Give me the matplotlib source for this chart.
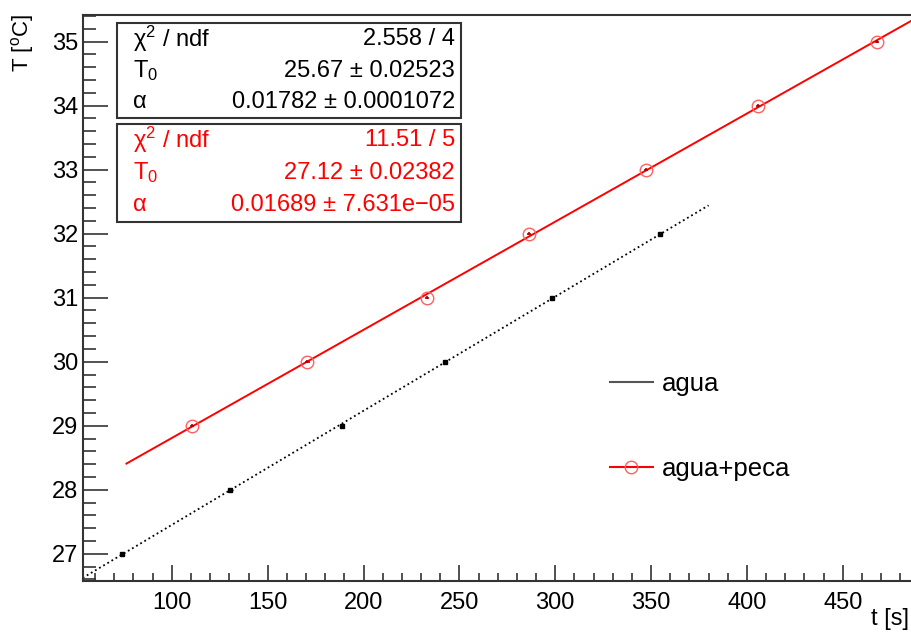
import matplotlib
matplotlib.use('Agg')
import matplotlib.pyplot as plt
from matplotlib.lines import Line2D
from matplotlib.patches import Rectangle
import numpy as np

plt.rcParams['font.family'] = ['Liberation Sans', 'DejaVu Sans']
plt.rcParams['mathtext.fontset'] = 'custom'
plt.rcParams['mathtext.rm'] = 'Liberation Sans'
plt.rcParams['mathtext.it'] = 'Liberation Sans'

# dados: agua
t_agua = [74, 130.5, 188.7, 242.6, 298.4, 354.7]
T_agua = [27, 28, 29, 30, 31, 32]
# dados: agua + peca
t_peca = [110.5, 170.7, 233.2, 286.4, 347.4, 405.8, 467.9]
T_peca = [29, 30, 31, 32, 33, 34, 35]

# parametros dos ajustes (T = T0 + alpha*t)
fit_agua = {'chi2': '2.558 / 4', 'T0': 25.67, 'T0_err': '0.02523',
            'alpha': 0.01782, 'alpha_err': '0.0001072', 'range': (53.5, 380)}
fit_peca = {'chi2': '11.51 / 5', 'T0': 27.12, 'T0_err': '0.02382',
            'alpha': 0.01689, 'alpha_err': '7.631e\u221205', 'range': (76.3, 500)}

W, H = 912, 633
fig = plt.figure(figsize=(W / 100, H / 100), dpi=100)
ax = fig.add_axes([82.7 / W, 1 - 580.7 / H, (930 - 82.7) / W, (580.7 - 15.3) / H])

# ajustes
for fit, cor, ls in [(fit_agua, 'black', ':'), (fit_peca, 'red', '-')]:
    tt = np.linspace(fit['range'][0], fit['range'][1], 50)
    ax.plot(tt, fit['T0'] + fit['alpha'] * tt, color=cor, ls=ls, lw=1.3 if ls == ':' else 1.4)

# pontos
ax.errorbar(t_agua, T_agua, xerr=1.2, yerr=0.02, fmt='s', color='black', ms=2.5,
            elinewidth=1, capsize=0)
ax.errorbar(t_peca, T_peca, xerr=1.2, yerr=0.02, fmt='o', mfc='none', mec='#ff6060',
            ms=9, mew=1, color='#b00000', elinewidth=1.2, capsize=0)

ax.set_xlim(53.5, 495.5)
ax.set_ylim(26.58, 35.41)
ax.set_xticks(np.arange(100, 500, 50))
ax.set_xticks(np.arange(60, 500, 10), minor=True)
ax.set_yticks(np.arange(27, 36, 1))
ax.set_yticks(np.arange(26.6, 35.5, 0.2), minor=True)
ax.tick_params(axis='both', which='both', direction='in', labelsize=17, color='#333333')
ax.tick_params(axis='y', which='major', length=18, width=1.2, pad=3.5)
ax.tick_params(axis='y', which='minor', length=9.5, width=1.2)
ax.tick_params(axis='x', which='major', length=11.5, width=1.2, pad=8)
ax.tick_params(axis='x', which='minor', length=6, width=1.2)
for s in ax.spines.values():
    s.set_linewidth(1.5)
    s.set_color('#333333')

fig.text(23 / W, 1 - 14 / H, 'T [$^{\\mathregular{o}}$C]', rotation=90, ha='center', va='top', fontsize=16)
fig.text(909 / W, 1 - 619 / H, 't [s]', ha='right', va='center', fontsize=17)

# caixas de estatistica
def caixa(fit, y_top, y_bot, cor):
    fig.patches.append(Rectangle((116.7 / W, 1 - y_bot / H), (461 - 116.7) / W, (y_bot - y_top) / H,
                                 transform=fig.transFigure, facecolor='white',
                                 edgecolor='#333333', lw=1.5, zorder=5))
    linhas = [('\u03c7$^{\\mathregular{2}}$ / ndf', fit['chi2']),
              ('T$_{\\mathregular{0}}$', '%.2f \u00b1 %s' % (fit['T0'], fit['T0_err'])),
              ('\u03b1', '%.5f \u00b1 %s' % (fit['alpha'], fit['alpha_err']))]
    dy = (y_bot - y_top) / 3
    for i, (lab, val) in enumerate(linhas):
        yc = y_top + dy * (i + 0.5)
        fig.text(133 / W, 1 - yc / H, lab, color=cor, fontsize=17, va='center', ha='left', zorder=6)
        fig.text(455 / W, 1 - yc / H, val, color=cor, fontsize=17, va='center', ha='right', zorder=6)

caixa(fit_agua, 23.3, 118.3, 'black')
caixa(fit_peca, 124, 221.7, 'red')

# legenda
handles = [Line2D([], [], color='#555555', lw=1.5),
           Line2D([], [], color='red', lw=1.5, marker='o', mfc='none', mec='#ff6060', ms=9)]
leg = ax.legend(handles, ['agua', 'agua+peca'], frameon=False, fontsize=18.5,
                loc='upper left', bbox_to_anchor=(610 / W, 1 - 372 / H),
                bbox_transform=fig.transFigure, handlelength=1.67, handletextpad=0.35,
                labelspacing=2.39, borderpad=0, borderaxespad=0)

fig.savefig('out.png', dpi=100)
